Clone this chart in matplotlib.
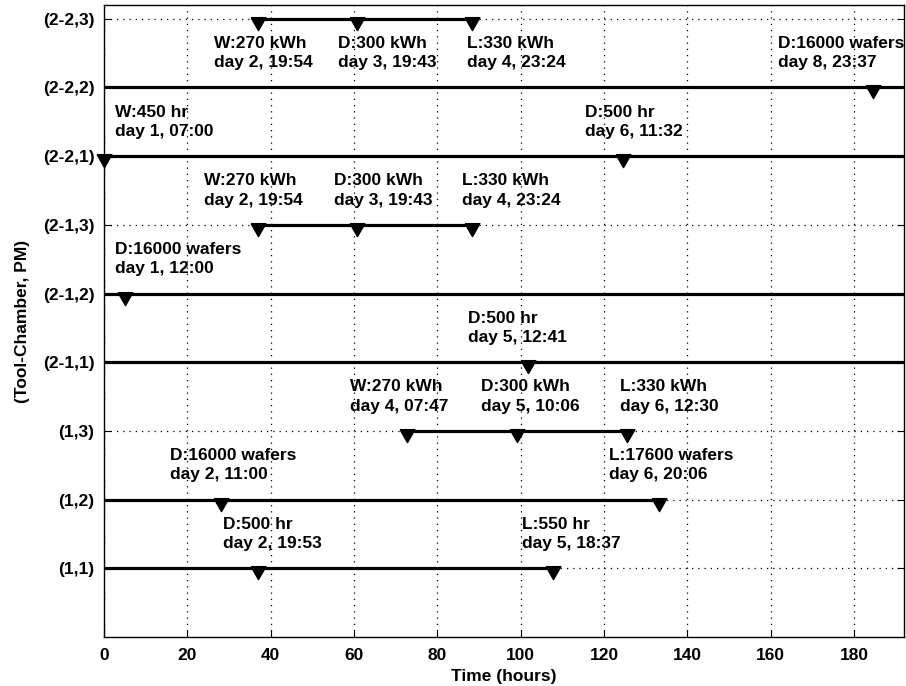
import matplotlib
matplotlib.use('Agg')
import matplotlib.pyplot as plt

plt.rcParams['font.family'] = ['Liberation Sans', 'DejaVu Sans']
plt.rcParams['font.weight'] = 'bold'
plt.rcParams['axes.labelweight'] = 'bold'

# rows (bottom to top)
rows = ['(1,1)', '(1,2)', '(1,3)', '(2-1,1)', '(2-1,2)', '(2-1,3)',
        '(2-2,1)', '(2-2,2)', '(2-2,3)']

# events per row: (hours, label)
events = {
    '(1,1)': [(36.88, 'D:500 hr\nday 2, 19:53'), (107.62, 'L:550 hr\nday 5, 18:37')],
    '(1,2)': [(28.0, 'D:16000 wafers\nday 2, 11:00'), (133.1, 'L:17600 wafers\nday 6, 20:06')],
    '(1,3)': [(72.78, 'W:270 kWh\nday 4, 07:47'), (99.1, 'D:300 kWh\nday 5, 10:06'),
              (125.5, 'L:330 kWh\nday 6, 12:30')],
    '(2-1,1)': [(101.68, 'D:500 hr\nday 5, 12:41')],
    '(2-1,2)': [(5.0, 'D:16000 wafers\nday 1, 12:00')],
    '(2-1,3)': [(36.9, 'W:270 kWh\nday 2, 19:54'), (60.72, 'D:300 kWh\nday 3, 19:43'),
                (88.4, 'L:330 kWh\nday 4, 23:24')],
    '(2-2,1)': [(0.0, 'W:450 hr\nday 1, 07:00'), (124.53, 'D:500 hr\nday 6, 11:32')],
    '(2-2,2)': [(184.62, 'D:16000 wafers\nday 8, 23:37')],
    '(2-2,3)': [(36.9, 'W:270 kWh\nday 2, 19:54'), (60.72, 'D:300 kWh\nday 3, 19:43'),
                (88.4, 'L:330 kWh\nday 4, 23:24')],
}

# label x offsets (hours) relative to marker
offsets = {
    '(1,1)': [-8.4, -7.4],
    '(1,2)': [-12.2, -12.0],
    '(1,3)': [-13.7, -8.6, -1.7],
    '(2-1,1)': [-14.4],
    '(2-1,2)': [-2.3],
    '(2-1,3)': [-12.8, -5.5, -2.6],
    '(2-2,1)': [2.6, -9.1],
    '(2-2,2)': [-23.0],
    '(2-2,3)': [-10.5, -4.6, -1.4],
}

xmax = 192

# downward triangle hanging from the line
tri = [(-0.6, 0.15), (0.6, 0.15), (0, -0.9), (-0.6, 0.15)]

fig = plt.figure(figsize=(9.06, 6.86), dpi=100)
ax = fig.add_axes([0.1148, 0.0714, 0.8832, 0.9213])

for i, r in enumerate(rows):
    y = i + 1
    ev = events[r]
    xs = [e[0] for e in ev]
    labs = [e[1] for e in ev]
    start = xs[0] if labs[0].startswith('W') else 0
    end = xs[-1] if labs[-1].startswith('L') else xmax
    ax.plot([start, end], [y, y], color='black', lw=2.3, solid_capstyle='butt', zorder=3)
    ax.plot(xs, [y] * len(xs), linestyle='none', marker=tri, color='black', ms=16,
            zorder=4, clip_on=False)
    ty = y - 0.5 if y == len(rows) else y + 0.5
    for x, lab, dx in zip(xs, labs, offsets[r]):
        ax.text(x + dx, ty, lab, fontsize=12.5, va='center', ha='left',
                linespacing=1.35, zorder=5)

ax.set_xlim(0, xmax)
ax.set_ylim(0, 9.2)
ax.set_xticks(range(0, 181, 20))
ax.set_yticks(range(1, len(rows) + 1))
ax.set_yticklabels(rows)
ax.tick_params(axis='x', pad=8)
ax.tick_params(axis='y', pad=7)
ax.tick_params(direction='in', length=5, labelsize=12.5, top=False, right=True)
ax.grid(True, color='black', linestyle=(0, (1, 4)), lw=0.9)
for s in ax.spines.values():
    s.set_linewidth(1.0)
ax.set_xlabel('Time (hours)', fontsize=12.5, labelpad=4)
ax.set_ylabel('(Tool-Chamber, PM)', fontsize=12.5, labelpad=9)

fig.savefig('out.png', dpi=100)
